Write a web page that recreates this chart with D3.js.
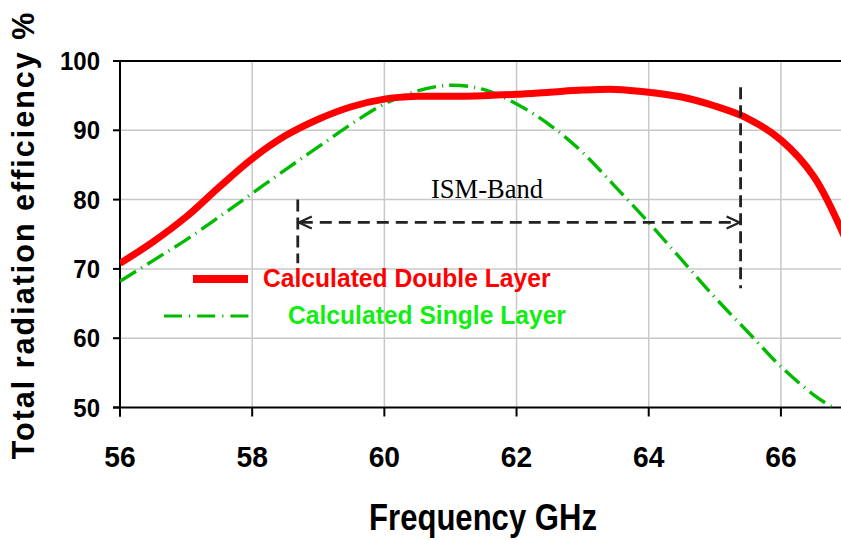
<!DOCTYPE html>
<meta charset="utf-8">
<script src="https://cdn.jsdelivr.net/npm/d3@7/dist/d3.min.js"></script>
<style>
 body { margin: 0; background: #fff; }
 svg { display: block; }
</style>
<div id="container"></div>
<script>
 // data
 var freq = [56, 56.5, 57, 57.5, 58, 58.5, 59, 59.5, 60, 60.5, 61, 61.5, 62, 62.5, 63, 63.5, 64, 64.5, 65, 65.5, 66, 66.5, 67];
 var doubleLayer = [70.8, 73.9, 77.5, 81.8, 85.9, 89.2, 91.6, 93.4, 94.5, 94.9, 94.9, 95.0, 95.2, 95.5, 95.8, 95.9, 95.5, 94.8, 93.5, 91.7, 88.6, 83.3, 73.8];
 var singleFreq = [56, 56.5, 57, 57.5, 58, 58.5, 59, 59.5, 60, 60.5, 61, 61.5, 62, 62.5, 63, 63.5, 64, 64.5, 65, 65.5, 66, 66.5, 66.8];
 var singleLayer = [68.2, 71.2, 74.2, 77.5, 80.9, 84.3, 87.6, 90.9, 93.8, 95.7, 96.5, 95.9, 93.8, 90.8, 86.8, 81.8, 76.7, 71.3, 65.9, 60.9, 55.9, 51.8, 49.9];
 var xTicks = [56, 58, 60, 62, 64, 66];
 var yTicks = [50, 60, 70, 80, 90, 100];
 var seriesNames = ["Calculated Double Layer", "Calculated Single Layer"];
 // ISM band marker: start/end frequency, arrow level, vertical extents
 var ismBand = [58.69, 65.39];
 var ismArrowLevel = 76.7;
 var ismLeftSpan = [80.0, 70.8];
 var ismRightSpan = [96.2, 67.2];

 var width = 841, height = 540;
 var margin = {top: 61, left: 120, bottom: 132.5};
 var plotRight = 847; // axis runs slightly past the window edge

 var x = d3.scaleLinear().domain([56, 67]).range([margin.left, plotRight]);
 var y = d3.scaleLinear().domain([50, 100]).range([height - margin.bottom, margin.top]);

 var svg = d3.select("#container").append("svg")
             .attr("width", width)
             .attr("height", height);

 var font = "Liberation Sans, Arial, Helvetica, sans-serif";

 // text with a slight horizontal squeeze, like the original
 function label(g, px, py, str, size, anchor, sx, fill) {
     return g.append("text")
             .attr("transform", `translate(${px},${py}) scale(${sx},1)`)
             .attr("text-anchor", anchor)
             .attr("font-family", font)
             .attr("font-weight", "bold")
             .attr("font-size", size)
             .attr("fill", fill || "#000")
             .text(str);
 }

 svg.append("clipPath").attr("id", "plotclip")
    .append("rect")
    .attr("x", x(56)).attr("y", y(100) - 4)
    .attr("width", plotRight - x(56)).attr("height", y(50) - y(100) + 4);

 // grid
 var grid = svg.append("g").attr("stroke", "#c8c8c8").attr("stroke-width", 1.5);
 grid.selectAll("line.v").data(xTicks.filter(d => d > 56)).enter().append("line")
     .attr("x1", d => x(d)).attr("x2", d => x(d))
     .attr("y1", y(100)).attr("y2", y(50));
 grid.selectAll("line.h").data(yTicks.filter(d => d > 50 && d < 100)).enter().append("line")
     .attr("x1", x(56)).attr("x2", width)
     .attr("y1", d => y(d)).attr("y2", d => y(d));

 // axes
 var axes = svg.append("g").attr("stroke", "#000").attr("stroke-width", 2);
 axes.append("line").attr("x1", x(56)).attr("x2", x(56)).attr("y1", y(100)).attr("y2", y(50) + 9);
 axes.append("line").attr("x1", x(56) - 7).attr("x2", width).attr("y1", y(50)).attr("y2", y(50));
 axes.append("line").attr("x1", x(56) - 7).attr("x2", width).attr("y1", y(100)).attr("y2", y(100));
 axes.selectAll("line.yt").data(yTicks).enter().append("line")
     .attr("x1", x(56) - 7).attr("x2", x(56))
     .attr("y1", d => y(d)).attr("y2", d => y(d));
 axes.selectAll("line.xt").data(xTicks).enter().append("line")
     .attr("x1", d => x(d)).attr("x2", d => x(d))
     .attr("y1", y(50)).attr("y2", y(50) + 9);

 xTicks.forEach(d => label(svg, x(d), 467, d, 30, "middle", 0.94));
 yTicks.forEach(d => label(svg, 100, y(d) + 9, d, 25.5, "end", 0.94));

 label(svg, 483, 530, "Frequency GHz", 37, "middle", 0.84);
 svg.append("text")
    .attr("transform", "translate(34,235) rotate(-90)")
    .attr("text-anchor", "middle")
    .attr("font-family", font)
    .attr("font-weight", "bold")
    .attr("font-size", 30.5)
    .attr("letter-spacing", 2)
    .text("Total radiation efficiency %");

 // curves
 var line = d3.line().curve(d3.curveCatmullRom.alpha(0.5));
 var plot = svg.append("g").attr("clip-path", "url(#plotclip)");

 plot.append("path")
     .attr("d", line(singleFreq.map((f, i) => [x(f), y(singleLayer[i])])))
     .attr("fill", "none")
     .attr("stroke", "#00bb00")
     .attr("stroke-width", 3.4)
     .attr("stroke-dasharray", "19,6,1.2,6");

 plot.append("path")
     .attr("d", line(freq.map((f, i) => [x(f), y(doubleLayer[i])])))
     .attr("fill", "none")
     .attr("stroke", "#ff0000")
     .attr("stroke-width", 7);

 // ISM band marker
 var ism = svg.append("g").attr("stroke", "#222").attr("stroke-width", 2.8).attr("fill", "none");
 ism.append("line")
    .attr("x1", x(ismBand[0])).attr("x2", x(ismBand[0]))
    .attr("y1", y(ismLeftSpan[0])).attr("y2", y(ismLeftSpan[1]))
    .attr("stroke-dasharray", "12,6");
 ism.append("line")
    .attr("x1", x(ismBand[1])).attr("x2", x(ismBand[1]))
    .attr("y1", y(ismRightSpan[0])).attr("y2", y(ismRightSpan[1]))
    .attr("stroke-dasharray", "12,6");
 ism.append("line")
    .attr("x1", x(ismBand[0]) + 3).attr("x2", x(ismBand[1]) - 3)
    .attr("y1", y(ismArrowLevel)).attr("y2", y(ismArrowLevel))
    .attr("stroke-dasharray", "12,7");
 var ay = y(ismArrowLevel);
 ism.append("path")
    .attr("stroke-width", 2.2)
    .attr("d", `M${x(ismBand[0]) + 14},${ay - 6} L${x(ismBand[0]) + 1},${ay} L${x(ismBand[0]) + 14},${ay + 6}`);
 ism.append("path")
    .attr("stroke-width", 2.2)
    .attr("d", `M${x(ismBand[1]) - 14},${ay - 6} L${x(ismBand[1]) - 1},${ay} L${x(ismBand[1]) - 14},${ay + 6}`);

 svg.append("text")
    .attr("x", 487).attr("y", 198)
    .attr("text-anchor", "middle")
    .attr("font-family", "Liberation Serif, Times New Roman, serif")
    .attr("font-size", 26.5)
    .text("ISM-Band");

 // legend
 var legend = svg.append("g");
 legend.append("line")
       .attr("x1", 193).attr("x2", 248).attr("y1", 279).attr("y2", 279)
       .attr("stroke", "#ff0000").attr("stroke-width", 8);
 legend.append("line")
       .attr("x1", 164).attr("x2", 250).attr("y1", 316).attr("y2", 316)
       .attr("stroke", "#00bb00").attr("stroke-width", 3.2)
       .attr("stroke-dasharray", "18,7,1.2,7");
 label(legend, 263, 287, seriesNames[0], 26.5, "start", 0.93, "#ff0000");
 label(legend, 288, 324, seriesNames[1], 26.5, "start", 0.93, "#11ee11");
</script>
